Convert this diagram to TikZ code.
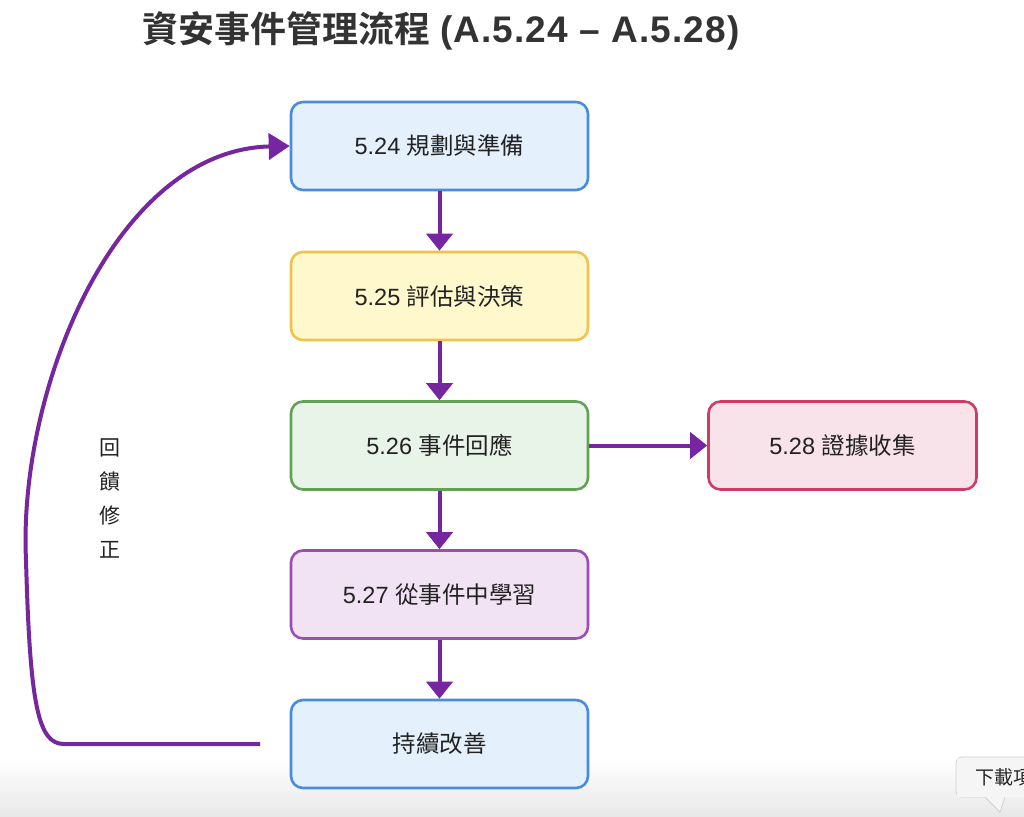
\documentclass[tikz,border=0pt]{standalone}
\usepackage{fontspec}
\setmainfont{Liberation Sans}
\newfontfamily\cjk{Noto Sans CJK TC}[BoldFont={Noto Sans CJK TC Bold}]
\usetikzlibrary{arrows.meta,shapes.geometric}
\definecolor{arrowc}{HTML}{7627A0}
\definecolor{bluefill}{HTML}{E4F0FC}
\definecolor{blueline}{HTML}{4A8BDD}
\definecolor{yelfill}{HTML}{FFF8CD}
\definecolor{yelline}{HTML}{F2C14E}
\definecolor{grnfill}{HTML}{E9F4E8}
\definecolor{grnline}{HTML}{62A156}
\definecolor{pinkfill}{HTML}{F9E3EA}
\definecolor{pinkline}{HTML}{CF3B67}
\definecolor{purfill}{HTML}{F1E3F4}
\definecolor{purline}{HTML}{9C4DB3}
\definecolor{txt}{HTML}{222222}
\tikzset{
  stepbox/.style={draw, rounded corners=12pt, line width=2.6pt, minimum width=297pt, minimum height=88pt,
    inner sep=0pt, font=\fontsize{23.5}{26}\selectfont, text=txt},
  flow/.style={draw=arrowc, line width=4pt, -{Triangle[length=17pt,width=26pt]}},
}
\begin{document}
\begin{tikzpicture}[x=1pt,y=-1pt]
\useasboundingbox (0,0) rectangle (1024,816);
\clip (0,0) rectangle (1024,816);
\fill[white] (0,0) rectangle (1024,816);
\shade[top color=white, bottom color=black!9] (0,758) rectangle (1024,816);

\node[anchor=west, font=\bfseries\fontsize{36}{40}\selectfont, text=black!80, inner sep=0pt] (title) at (142,31) {{\cjk\bfseries 資安事件管理流程} {\addfontfeatures{LetterSpace=3}\fontsize{37}{40}\selectfont(A.5.24 – A.5.28)}};

\node[stepbox, fill=bluefill, draw=blueline] (b1) at (439.5,146) {5.24 {\cjk 規劃與準備}};
\node[stepbox, fill=yelfill, draw=yelline] (b2) at (439.5,296) {5.25 {\cjk 評估與決策}};
\node[stepbox, fill=grnfill, draw=grnline] (b3) at (439.5,445.5) {5.26 {\cjk 事件回應}};
\node[stepbox, fill=pinkfill, draw=pinkline, minimum width=268pt] (b4) at (842.5,445.5) {5.28 {\cjk 證據收集}};
\node[stepbox, fill=purfill, draw=purline] (b5) at (439.5,594.5) {5.27 {\cjk 從事件中學習}};
\node[stepbox, fill=bluefill, draw=blueline] (b6) at (439.5,744) {\cjk 持續改善};

\draw[flow] (b1) -- (b2);
\draw[flow] (b2) -- (b3);
\draw[flow] (b3) -- (b5);
\draw[flow] (b5) -- (b6);
\draw[flow] (b3) -- (b4);

\coordinate (fbstart) at (260,744);
\draw[draw=arrowc, line width=4pt, -{Triangle[length=21pt,width=26pt]}]
  (fbstart) -- (64,744) .. controls (38,744) and (30,705) .. (26,560)
  .. controls (18,390) and (115,150) .. (b1.west);

\node[font=\cjk\fontsize{21}{34}\selectfont, text=txt, align=center] (lbl) at (110,498) {回\\饋\\修\\正};

% partial tooltip at bottom-right
\filldraw[fill=black!4, draw=black!18, line width=0.8pt, rounded corners=6pt]
  (1040,757) -- (956,757) -- (956,797) -- (985,797);
\filldraw[fill=black!4, draw=black!18, line width=0.8pt]
  (985,797) -- (1000,812) -- (1005,797);
\fill[black!4] (957,758) rectangle (1030,796.5);
\node[anchor=west, font=\cjk\fontsize{19}{22}\selectfont, text=black!85] (tip) at (972,777) {下載項目};
\end{tikzpicture}
\end{document}
